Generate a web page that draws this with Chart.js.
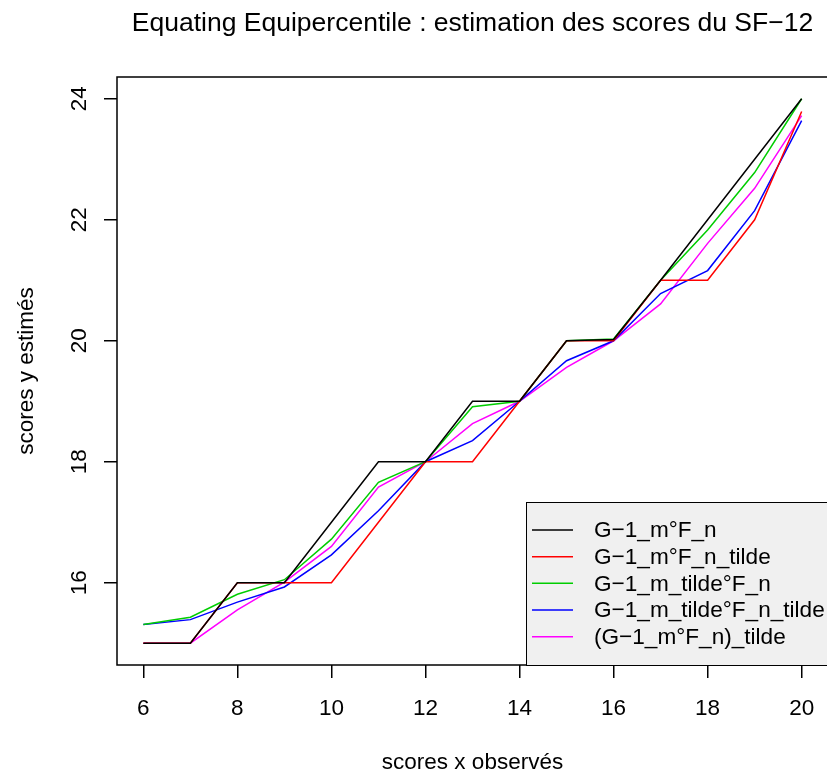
<!DOCTYPE html>
<html>
<head>
<meta charset="utf-8">
<script src="https://cdn.jsdelivr.net/npm/chart.js@4.4.1/dist/chart.umd.min.js"></script>
<style>
  html, body { margin: 0; padding: 0; background: #fff; overflow: hidden; }
  #wrap { width: 827px; height: 773px; overflow: hidden; }
</style>
</head>
<body>
<div id="wrap"><canvas id="chart" width="840" height="773"></canvas></div>
<script>
// observed x scores and the estimated y scores for each method
const scoresX = [6, 7, 8, 9, 10, 11, 12, 13, 14, 15, 16, 17, 18, 19, 20];
const gmFn = [15, 15, 16, 16, 17, 18, 18, 19, 19, 20, 20.02, 21, 22, 23, 24];
const gmFnTilde = [15, 15, 16, 16, 16, 17, 18, 18, 19, 20, 20, 21, 21, 22, 23.79];
const gmTildeFn = [15.31, 15.43, 15.81, 16.05, 16.72, 17.66, 18, 18.91, 19, 20, 20.03, 21, 21.83, 22.78, 24];
const gmTildeFnTilde = [15.31, 15.39, 15.68, 15.93, 16.46, 17.19, 18, 18.35, 19, 19.67, 20, 20.78, 21.16, 22.15, 23.64];
const gmFnSmoothed = [15, 15, 15.55, 16.01, 16.6, 17.58, 18, 18.63, 19, 19.56, 20, 20.61, 21.61, 22.52, 23.72];

const seriesNames = ["G\u22121_m\u00b0F_n", "G\u22121_m\u00b0F_n_tilde", "G\u22121_m_tilde\u00b0F_n",
                     "G\u22121_m_tilde\u00b0F_n_tilde", "(G\u22121_m\u00b0F_n)_tilde"];
const xTicks = [6, 8, 10, 12, 14, 16, 18, 20];
const yTicks = [16, 18, 20, 22, 24];

const FONT = "'Liberation Sans', Arial, Helvetica, sans-serif";

function toPoints(ys) {
    return scoresX.map((x, i) => ({ x: x, y: ys[i] }));
}

function makeSeries(label, ys, color) {
    return {
        label: label,
        data: toPoints(ys),
        borderColor: color,
        backgroundColor: color,
        borderWidth: 1.5,
        pointRadius: 0,
        tension: 0,
        fill: false
    };
}

// R-style decorations: box, in-plot legend, title, axis titles, rotated y labels
const rDecor = {
    id: "rDecor",
    afterDatasetsDraw(chart) {
        const ctx = chart.ctx;
        const a = chart.chartArea;
        ctx.save();
        ctx.strokeStyle = "#000";
        ctx.lineWidth = 1.5;
        ctx.strokeRect(a.left, a.top, a.right - a.left, a.bottom - a.top);

        // legend box
        const lx = 526, ly = 502;
        ctx.fillStyle = "#f0f0f0";
        ctx.fillRect(lx, ly, 330, a.bottom - ly);
        ctx.lineWidth = 1;
        ctx.strokeRect(lx + 0.5, ly + 0.5, 330, a.bottom - ly);
        ctx.font = "22.6px " + FONT;
        ctx.textBaseline = "middle";
        ctx.textAlign = "left";
        chart.data.datasets.forEach((ds, i) => {
            const y = 530 + i * 26.67;
            ctx.strokeStyle = ds.borderColor;
            ctx.lineWidth = 1.5;
            ctx.beginPath();
            ctx.moveTo(532, y);
            ctx.lineTo(573, y);
            ctx.stroke();
            ctx.fillStyle = "#000";
            ctx.fillText(ds.label, 594, y + 1);
        });
        ctx.restore();
    },
    afterDraw(chart) {
        const ctx = chart.ctx;
        const a = chart.chartArea;
        const cx = (a.left + a.right) / 2;
        const cy = (a.top + a.bottom) / 2;
        ctx.save();
        ctx.fillStyle = "#000";
        ctx.textAlign = "center";
        ctx.textBaseline = "alphabetic";

        ctx.font = "26.5px " + FONT;
        ctx.fillText("Equating Equipercentile : estimation des scores du SF\u221212", cx, 31);

        ctx.font = "22.5px " + FONT;
        ctx.fillText("scores x observ\u00e9s", cx, 769);

        ctx.save();
        ctx.translate(33, cy);
        ctx.rotate(-Math.PI / 2);
        ctx.fillText("scores y estim\u00e9s", 0, 0);
        ctx.restore();

        const ys = chart.scales.y;
        ys.ticks.forEach(t => {
            ctx.save();
            ctx.translate(86, ys.getPixelForValue(t.value));
            ctx.rotate(-Math.PI / 2);
            ctx.fillText(String(t.value), 0, 0);
            ctx.restore();
        });
        ctx.restore();
    }
};

const canvas = document.getElementById("chart");

new Chart(canvas, {
    type: "line",
    data: {
        datasets: [
            makeSeries(seriesNames[0], gmFn, "#000000"),
            makeSeries(seriesNames[1], gmFnTilde, "#ff0000"),
            makeSeries(seriesNames[2], gmTildeFn, "#00cd00"),
            makeSeries(seriesNames[3], gmTildeFnTilde, "#0000ff"),
            makeSeries(seriesNames[4], gmFnSmoothed, "#ff00ff")
        ]
    },
    options: {
        responsive: false,
        animation: false,
        devicePixelRatio: 1,
        layout: { padding: { top: 77, left: 0, right: 12, bottom: 0 } },
        plugins: {
            legend: { display: false },
            title: { display: false },
            tooltip: { enabled: false }
        },
        scales: {
            x: {
                type: "linear",
                min: 5.44,
                max: 20.56,
                afterBuildTicks: s => { s.ticks = xTicks.map(v => ({ value: v })); },
                afterFit: s => { s.height = 108; },
                border: { display: false },
                grid: { drawOnChartArea: false, drawTicks: true, tickLength: 13, color: "#000", lineWidth: 1.5 },
                ticks: {
                    color: "#000",
                    padding: 17,
                    maxRotation: 0,
                    font: { family: FONT, size: 22.5 }
                }
            },
            y: {
                type: "linear",
                min: 14.64,
                max: 24.36,
                afterBuildTicks: s => { s.ticks = yTicks.map(v => ({ value: v })); },
                afterFit: s => { s.width = 117; },
                border: { display: false },
                grid: { drawOnChartArea: false, drawTicks: true, tickLength: 13, color: "#000", lineWidth: 1.5 },
                ticks: { display: false }
            }
        }
    },
    plugins: [rDecor]
});
</script>
</body>
</html>
